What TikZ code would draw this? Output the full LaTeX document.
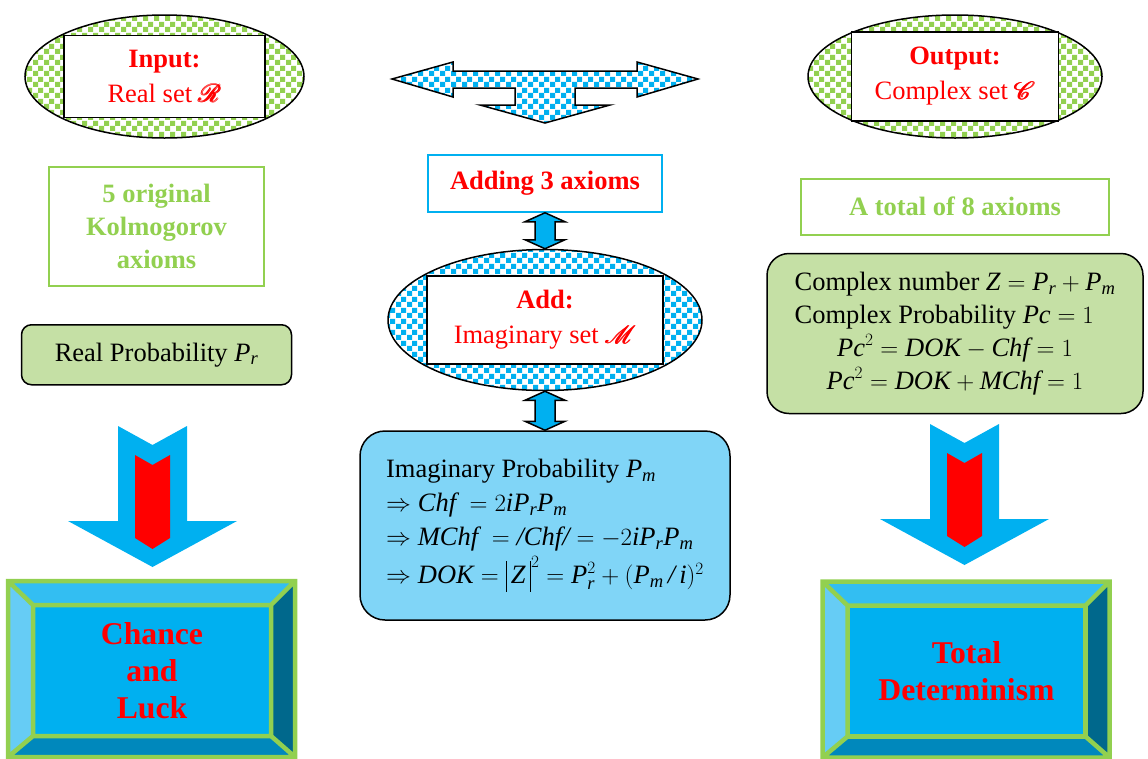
\documentclass[tikz,border=0pt]{standalone}
\usepackage{amsmath}
\usepackage{mathrsfs}
\usepackage{fontspec}
\setmainfont{Liberation Serif}
\usetikzlibrary{positioning, calc, shapes.geometric, patterns}

\definecolor{checkgreen}{HTML}{92D050}
\definecolor{checkblue}{HTML}{00B0F0}
\definecolor{softgreen}{RGB}{197,224,165}
\definecolor{softblue}{RGB}{128,213,247}
\definecolor{bevtop}{RGB}{51,190,242}
\definecolor{bevleft}{RGB}{102,204,245}
\definecolor{bevright}{RGB}{0,104,140}
\definecolor{bevbot}{RGB}{0,136,188}

\pgfdeclarepatternformonly{checks}{\pgfpointorigin}{\pgfqpoint{11pt}{11pt}}{\pgfqpoint{11pt}{11pt}}{%
  \pgfpathrectangle{\pgfpointorigin}{\pgfqpoint{5.5pt}{5.5pt}}%
  \pgfpathrectangle{\pgfqpoint{5.5pt}{5.5pt}}{\pgfqpoint{5.5pt}{5.5pt}}%
  \pgfusepath{fill}%
}

\newcommand{\Preal}{\textit{P}_{\textit{r}}}
\newcommand{\Pimag}{\textit{P}_{\textit{m}}}
\newcommand{\tallbar}{\mbox{\rule[-8pt]{1.2pt}{31pt}}}
\newcommand{\diagfont}{\fontsize{26.5}{33}\selectfont}

\begin{document}
\begin{tikzpicture}[x=1pt, y=-1pt,
    checkell/.style={ellipse, draw=black, line width=1.5pt, pattern=checks, inner sep=0pt},
    namebox/.style={rectangle, draw=black, line width=1.5pt, fill=white, text=red, align=center, inner sep=0pt, font={\fontsize{26.5}{35}\selectfont}},
    axiombox/.style={rectangle, draw=checkgreen, line width=2pt, text=checkgreen, align=center, inner sep=0pt, font={\diagfont\bfseries}},
    probbox/.style={rectangle, rounded corners=10pt, draw=black, line width=1.5pt, inner sep=0pt, font=\diagfont},
    face/.style={rectangle, fill=checkblue, draw=checkgreen, line width=4.5pt, outer sep=0pt, inner sep=0pt, minimum width=238pt, minimum height=131pt, text=red, align=center, font={\fontsize{31.7}{37}\selectfont\bfseries}},
    bevline/.style={draw=checkgreen, line width=4.5pt, line join=miter},
    dblarr/.style={draw=black, line width=1.5pt, fill=checkblue, line join=miter},
    splitarrow/.style={draw=black, line width=1.5pt, pattern=checks, pattern color=checkblue, line join=miter},
    downarrow/.pic={
      \fill[checkblue] (-34.5,0) -- (0,19) -- (34.5,0) -- (34.5,95) -- (84.5,95) -- (0,141) -- (-84.5,95) -- (-34.5,95) -- cycle;
      \fill[red] (-17.5,29) -- (0,39) -- (17.5,29) -- (17.5,112) -- (0,123) -- (-17.5,112) -- cycle;
    },
]
\useasboundingbox (0,0) rectangle (1148,758);

% left column
\node[checkell, pattern color=checkgreen, minimum width=279pt, minimum height=123pt](inell) at (164.5,76.5){};
\node[namebox, minimum width=201pt, minimum height=82pt](inbox) at (inell.center){\textbf{Input:}\\Real set $\pmb{\mathscr{R}}$};
\node[axiombox, minimum width=215pt, minimum height=119pt](kolmo) at (156.5,226.5){5 original\\Kolmogorov\\axioms};
\node[probbox, fill=softgreen, minimum width=270pt, minimum height=60pt](realprob)[below = 37pt of kolmo]{Real Probability $\Preal$};

% middle column
\draw[splitarrow] (392,79) -- (453,62) -- (453,71) -- (637,71) -- (637,62) -- (698,79) -- (637,97) -- (637,88)
  -- (575,88) -- (575,105) -- (610,105) -- (545,123) -- (480,105) -- (515,105) -- (515,88) -- (453,88) -- (453,97) -- cycle;
\node[rectangle, draw=checkblue, line width=1.5pt, text=red, inner sep=0pt, minimum width=234pt, minimum height=57pt, font={\diagfont\bfseries}](adding) at (545,183.5){Adding 3 axioms};
\node[checkell, pattern color=checkblue, minimum width=314pt, minimum height=141pt](addell)[below = 36pt of adding]{};
\node[namebox, minimum width=236pt, minimum height=88pt](addbox) at (addell.center){\textbf{Add:}\\Imaginary set $\pmb{\mathscr{M}}$};
\node[probbox, rounded corners=25pt, fill=softblue, minimum width=370pt, minimum height=189pt, align=left, font={\fontsize{26.5}{34}\selectfont}](imagbox)[below = 39pt of addell]{Imaginary Probability $\Pimag$\\
$\Rightarrow \textit{Chf}\ = 2\textit{iP}_{\textit{r}}\Pimag$\\
$\Rightarrow \textit{MChf}\ = \textit{/Chf/} = -2\textit{iP}_{\textit{r}}\Pimag$\\[4pt]
$\Rightarrow \textit{DOK} = \tallbar\,\textit{Z}\,\tallbar^{2} = \Preal^2 + (\Pimag\,\textit{/}\,\textit{i})^2$};
\draw[dblarr] (adding.south) -- ++(20,9) -- ++(-10,0) -- ($(addell.north)+(10,-9)$) -- ++(10,0) -- (addell.north)
  -- ++(-20,-9) -- ++(10,0) -- ($(adding.south)+(-10,9)$) -- ++(-10,0) -- cycle;
\draw[dblarr] (addell.south) -- ++(20,9) -- ++(-10,0) -- ($(imagbox.north)+(10,-9)$) -- ++(10,0) -- (imagbox.north)
  -- ++(-20,-9) -- ++(10,0) -- ($(addell.south)+(-10,9)$) -- ++(-10,0) -- cycle;

% right column
\node[checkell, pattern color=checkgreen, minimum width=294pt, minimum height=123pt](outell) at (955,76.5){};
\node[namebox, minimum width=207pt, minimum height=89pt](outbox) at (outell.center){\textbf{Output:}\\Complex set $\pmb{\mathscr{C}}$};
\node[axiombox, minimum width=308pt, minimum height=56pt](total)[below = 39pt of outell]{A total of 8 axioms};
\node[probbox, rounded corners=22pt, fill=softgreen, minimum width=376pt, minimum height=160pt](complexbox)[below = 17pt of total]{%
\begin{tabular}{@{}l@{}}
Complex number $\textit{Z} = \Preal + \Pimag$\\
Complex Probability $\textit{Pc} = 1$\\
\multicolumn{1}{@{}c@{}}{$\textit{Pc}^2 = \textit{DOK} - \textit{Chf} = 1$}\\
\multicolumn{1}{@{}c@{}}{$\textit{Pc}^2 = \textit{DOK} + \textit{MChf} = 1$}
\end{tabular}};

% down arrows
\pic at (152.5,426) {downarrow};
\pic at (964.5,424) {downarrow};

% bevelled result boxes
\node[face](chance) at (152,670.5){Chance\\and\\Luck};
\fill[bevtop] (chance.north west) -- ++(-25,-24) -- ++(287,0) -- (chance.north east) -- cycle;
\fill[bevleft] (chance.north west) -- ++(-25,-24) -- ++(0,176) -- (chance.south west) -- cycle;
\fill[bevright] (chance.north east) -- ++(24,-24) -- ++(0,176) -- (chance.south east) -- cycle;
\fill[bevbot] (chance.south west) -- ++(-25,21) -- ++(287,0) -- (chance.south east) -- cycle;
\draw[bevline] ($(chance.north west)+(-25,-24)$) rectangle ($(chance.south east)+(24,21)$)
  (chance.north west) -- ++(-25,-24) (chance.north east) -- ++(24,-24)
  (chance.south east) -- ++(24,21) (chance.south west) -- ++(-25,21)
  (chance.north west) rectangle (chance.south east);

\node[face](determ) at (966.5,671){Total\\Determinism};
\fill[bevtop] (determ.north west) -- ++(-25,-24) -- ++(287,0) -- (determ.north east) -- cycle;
\fill[bevleft] (determ.north west) -- ++(-25,-24) -- ++(0,176) -- (determ.south west) -- cycle;
\fill[bevright] (determ.north east) -- ++(24,-24) -- ++(0,176) -- (determ.south east) -- cycle;
\fill[bevbot] (determ.south west) -- ++(-25,21) -- ++(287,0) -- (determ.south east) -- cycle;
\draw[bevline] ($(determ.north west)+(-25,-24)$) rectangle ($(determ.south east)+(24,21)$)
  (determ.north west) -- ++(-25,-24) (determ.north east) -- ++(24,-24)
  (determ.south east) -- ++(24,21) (determ.south west) -- ++(-25,21)
  (determ.north west) rectangle (determ.south east);
\end{tikzpicture}
\end{document}
